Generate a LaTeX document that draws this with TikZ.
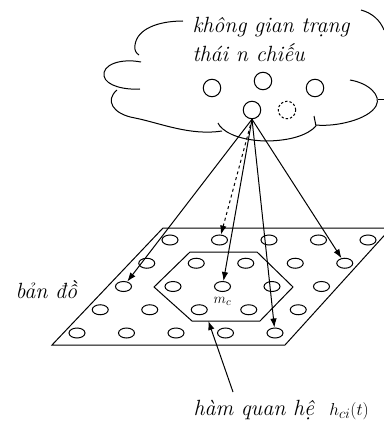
\documentclass[tikz,border=0pt]{standalone}
\usepackage{fontspec}
\usepackage{amsmath}
\usetikzlibrary{arrows.meta,calc,positioning,shapes.geometric}

\begin{document}
\begin{tikzpicture}[x=1pt,y=-1pt,>={Latex[length=9pt,width=6.5pt]},line width=1pt,
    dot/.style={draw,ellipse,minimum width=16pt,minimum height=10pt,inner sep=0pt},
    ball/.style={draw,circle,minimum size=17.5pt,inner sep=0pt},
    txt/.style={font=\fontsize{22}{29}\selectfont\itshape,inner sep=0pt}]
  \useasboundingbox (0,0) rectangle (383,422);

  % cloud
  \draw (183,21) .. controls (158,21) and (137,29) .. (135,45)
        .. controls (134,50) and (136,53) .. (139,55);
  \draw (141,62) .. controls (120,58) and (102,65) .. (104,76)
        .. controls (106,86) and (125,90) .. (140,89);
  \draw (117,90) .. controls (105,100) and (112,114) .. (135,118)
        .. controls (160,123) and (190,136) .. (222,131);
  \draw (218,123) .. controls (221,130) and (235,140) .. (265,141)
        .. controls (290,141) and (308,135) .. (316,126);
  \draw (314,116) -- (316,126);
  \draw (350,80) .. controls (368,83) and (382,95) .. (376,106)
        .. controls (368,120) and (335,127) .. (316,125);
  \draw (378,100) -- (384,100);
  \draw (361,10) .. controls (372,13) and (380,20) .. (384,30);

  \node[ball] (c1) at (212,88) {};
  \node[ball] (c2) at (263,81) {};
  \node[ball] (c3) at (315,88) {};
  \node[ball] (src) at (252,110) {};
  \node[ball,dash pattern=on 2.4pt off 2pt] (ghost) at (287,110) {};

  % base of a two-line node is its last line
  \node[txt,anchor=base west,align=left] (space) at (192,62)
       {không gian trạng\\thái n chiếu};

  % map
  \draw (52,345) -- (285,345) -- (391,228) -- (163,228) -- cycle;
  \foreach \i in {0,...,4}
    \foreach \j in {0,...,4}
      \node[dot] (m-\i-\j) at (170-23.25*\i+49.5*\j,240+23.25*\i) {};

  \coordinate (h1) at (154,287);
  \coordinate (h2) at (190,252);
  \coordinate (h3) at (257,252);
  \coordinate (h4) at (293,287);
  \coordinate (h5) at (260,321);
  \coordinate (h6) at (192,321);
  \draw (h1) -- (h2) -- (h3) -- (h4) -- (h5) -- (h6) -- cycle;

  \node[font=\fontsize{15}{17}\selectfont,inner sep=0pt,below=5pt of m-2-2] (mc) {$m_c$};
  \node[txt,anchor=base west] (map) at (15,298) {bản đồ};

  \draw[->] (src.south) -- (m-2-0);
  \draw[->,dashed] (src.south) -- (m-0-1);
  \draw[->] (src.south) -- (m-2-2);
  \draw[->] (src.south) -- (m-4-4);
  \draw[->] (src.south) -- (m-1-4);

  % neighbourhood function
  \node[txt,anchor=base west] (rel) at (193,415)
       {hàm quan hệ\ \ {\fontsize{19}{22}\selectfont$h_{ci}(t)$}};
  \coordinate (tail) at (233,392);
  \coordinate (foot) at ($(h6)!0.24!(h5)$);
  \draw[->] (tail) -- (foot);
\end{tikzpicture}
\end{document}
